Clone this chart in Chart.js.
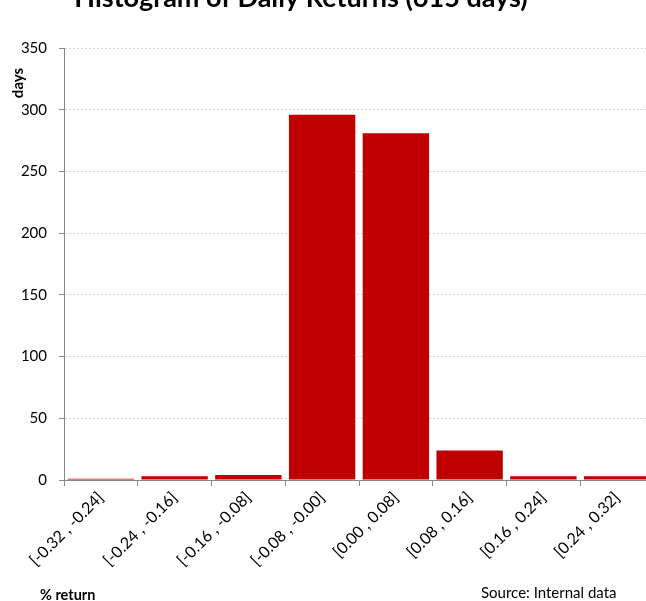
<!DOCTYPE html>
<html>
<head>
<meta charset="utf-8">
<script src="https://cdn.jsdelivr.net/npm/chart.js@4.4.1/dist/chart.umd.min.js"></script>
<style>
  html, body { margin: 0; padding: 0; background: #fff; overflow: hidden; width: 646px; height: 601px; }
  #wrap { position: absolute; left: 0; top: -30px; width: 660px; height: 631px; }
</style>
</head>
<body>
<div id="wrap"><canvas id="chartHist"></canvas></div>
<script>
  // Histogram data
  const bins = [
    "[-0.32 , -0.24]",
    "[-0.24 , -0.16]",
    "[-0.16 , -0.08]",
    "[-0.08 , -0.00]",
    "[0.00 , 0.08]",
    "[0.08 , 0.16]",
    "[0.16 , 0.24]",
    "[0.24 , 0.32]",
  ];
  const days = [1, 3, 4, 296, 281, 24, 3, 3];
  const yTicks = [0, 50, 100, 150, 200, 250, 300, 350];

  const titleText = "Histogram of Daily Returns (615 days)";
  const fontFamily = "Lato, 'Open Sans', sans-serif";

  // extra labels drawn straight on the canvas
  const textPlugin = {
    id: "extraText",
    afterDraw(chart) {
      const ctx = chart.ctx;
      ctx.save();
      ctx.fillStyle = "#000000";
      ctx.textBaseline = "alphabetic";

      ctx.font = "bold 27px " + fontFamily;
      ctx.textAlign = "center";
      ctx.fillText(titleText, 301, 37);

      ctx.font = "bold 14.5px " + fontFamily;
      ctx.textAlign = "left";
      ctx.fillText("% return", 40, 630);

      ctx.font = "15px " + fontFamily;
      ctx.fillText("Source: Internal data", 481, 628);

      ctx.translate(23, 113);
      ctx.rotate(-Math.PI / 2);
      ctx.font = "bold 15px " + fontFamily;
      ctx.textAlign = "center";
      ctx.fillText("days", 0, 0);
      ctx.restore();
    },
  };

  const ctx = document.getElementById("chartHist").getContext("2d");
  const chartHist = new Chart(ctx, {
    type: "bar",
    data: {
      labels: bins,
      datasets: [
        {
          label: "days",
          data: days,
          backgroundColor: "#C00000",
          borderWidth: 0,
          barPercentage: 0.9,
          categoryPercentage: 1.0,
        },
      ],
    },
    options: {
      responsive: true,
      maintainAspectRatio: false,
      animation: false,
      layout: {
        padding: { top: 78, right: 6, bottom: 0, left: 0 },
      },
      scales: {
        x: {
          afterFit(scale) {
            scale.height = 121;
          },
          grid: {
            display: true,
            drawOnChartArea: false,
            offset: true,
            color: "#888888",
            tickLength: 6,
          },
          border: { color: "#888888" },
          ticks: {
            color: "#000000",
            maxRotation: 45,
            minRotation: 45,
            padding: 2,
            font: { family: fontFamily, size: 16 },
          },
        },
        y: {
          min: 0,
          max: 350,
          afterFit(scale) {
            scale.width = 64;
          },
          afterBuildTicks(scale) {
            scale.ticks = yTicks.map((v) => ({ value: v }));
          },
          grid: {
            color: "#d4d4d4",
            tickColor: "#888888",
            tickLength: 5,
            tickBorderDash: [],
          },
          border: { color: "#888888", dash: [2, 2] },
          ticks: {
            color: "#000000",
            padding: 12,
            font: { family: fontFamily, size: 15 },
          },
        },
      },
      plugins: {
        legend: { display: false },
        tooltip: { enabled: false },
      },
    },
    plugins: [textPlugin],
  });
</script>
</body>
</html>
